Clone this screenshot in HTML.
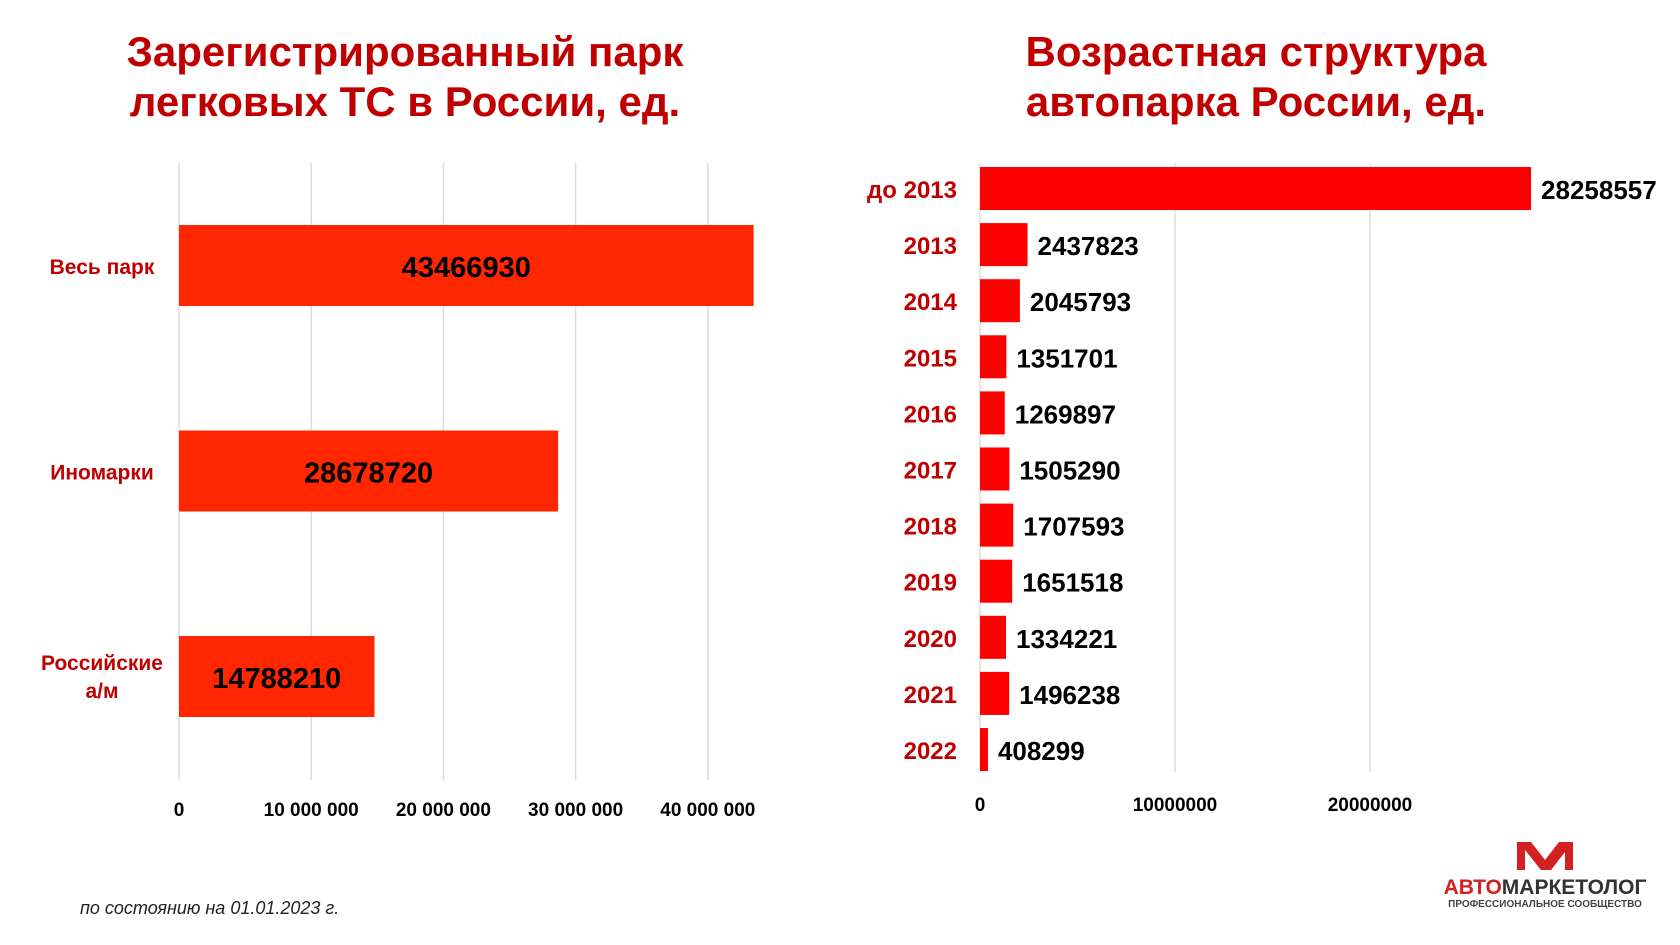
<!DOCTYPE html>
<html><head><meta charset="utf-8"><style>
body{margin:0;background:#fff;width:1680px;height:945px;overflow:hidden;font-family:"Liberation Sans",sans-serif}
.t{position:absolute;color:#c00000;font-weight:bold;font-size:42px;text-align:center;line-height:50px}
</style></head><body>
<div class="t" style="left:55px;top:27px;width:700px">Зарегистрированный парк<br>легковых ТС в России, ед.</div>
<div class="t" style="left:906px;top:27px;width:700px">Возрастная структура<br>автопарка России, ед.</div>
<svg id="svg" width="1680" height="945" style="position:absolute;left:0;top:0"></svg>
<div style="position:absolute;left:80px;top:898px;font-style:italic;font-size:18px;color:#222">по состоянию на 01.01.2023 г.</div>
<div style="position:absolute;left:1430px;top:840px;width:230px;text-align:center">
<svg width="60" height="32" viewBox="0 0 60 32"><path d="M2 2h14l14 18L44 2h14v28h-8V12L36 30H26L10 10v20H2z" fill="#d42020"/></svg>
<div style="font-size:21px;font-weight:bold;line-height:22px;color:#333"><span style="color:#d42020">АВТО</span>МАРКЕТОЛОГ</div>
<div style="font-size:10px;font-weight:bold;color:#444">ПРОФЕССИОНАЛЬНОЕ СООБЩЕСТВО</div>
</div>
<script>
const leftCats=["Весь парк","Иномарки","Российские а/м"];
const leftVals=[43466930,28678720,14788210];
const leftTicks=[0,10000000,20000000,30000000,40000000];
const leftTickLabels=["0","10 000 000","20 000 000","30 000 000","40 000 000"];
const rightCats=["до 2013","2013","2014","2015","2016","2017","2018","2019","2020","2021","2022"];
const rightVals=[28258557,2437823,2045793,1351701,1269897,1505290,1707593,1651518,1334221,1496238,408299];
const rightTicks=[0,10000000,20000000];
const rightTickLabels=["0","10000000","20000000"];
const NS="http://www.w3.org/2000/svg",svg=document.getElementById('svg');
const FN='"Liberation Sans Narrow","Liberation Sans",sans-serif';
function mk(t,a,txt){const e=document.createElementNS(NS,t);for(const k in a)e.setAttribute(k,a[k]);if(txt!=null)e.textContent=txt;svg.appendChild(e);return e;}
// left
const lx=v=>179+v/10000000*132.2;
const ly=i=>225+i*205.5;
leftTicks.forEach((t,i)=>{
 const g=mk('line',{x1:lx(t),x2:lx(t),y1:163,y2:780,stroke:'#ddd','stroke-width':1.5});
 
 const l=mk('text',{x:lx(t),y:816,'text-anchor':'middle','font-family':FN,'font-weight':'bold','font-size':19,fill:'#000'},leftTickLabels[i]);
 
});
leftVals.forEach((v,i)=>{
 const r=mk('rect',{x:lx(0),y:ly(i),width:lx(v)-lx(0),height:81,fill:'#ff2600'});
 
 const t=mk('text',{x:(lx(0)+lx(v))/2,y:ly(i)+52,'text-anchor':'middle','font-family':FN,'font-weight':'bold','font-size':29,fill:'#000'},String(v));
 
 const parts=leftCats[i]==="Российские а/м"?["Российские","а/м"]:[leftCats[i]];
 parts.forEach((p,j)=>{
  const c=mk('text',{x:102,y:ly(i)+(parts.length>1?34+j*28:49),'text-anchor':'middle','font-family':FN,'font-weight':'bold','font-size':21,fill:'#c00000'},p);
  
 });
});
// right
const rx=v=>980+v/10000000*195;
const ry=i=>167+i*56.1;
rightTicks.forEach((t,i)=>{
 const g=mk('line',{x1:rx(t),x2:rx(t),y1:163,y2:772,stroke:'#ddd','stroke-width':1.5});
 
 const l=mk('text',{x:rx(t),y:811,'text-anchor':'middle','font-family':FN,'font-weight':'bold','font-size':19,fill:'#000'},rightTickLabels[i]);
 
});
rightVals.forEach((v,i)=>{
 const r=mk('rect',{x:rx(0),y:ry(i),width:rx(v)-rx(0),height:43,fill:'#ff0000'});
 
 const t=mk('text',{x:rx(v)+10,y:ry(i)+32,'font-family':FN,'font-weight':'bold','font-size':26,fill:'#000'},String(v));
 
 const c=mk('text',{x:957,y:ry(i)+31,'text-anchor':'end','font-family':FN,'font-weight':'bold','font-size':24,fill:'#c00000'},rightCats[i]);
 
});
</script>
</body></html>
